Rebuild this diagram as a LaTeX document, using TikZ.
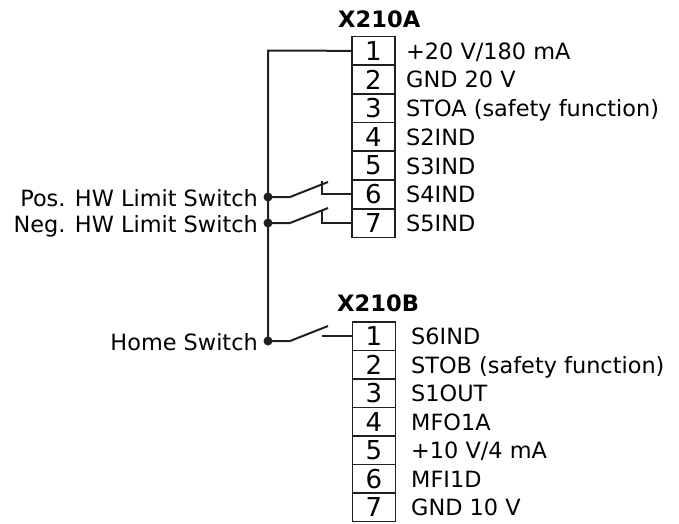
\documentclass[tikz,border=0pt]{standalone}
\usepackage{fontspec}
\setmainfont{DejaVu Sans}
\usepackage{tikz}

\definecolor{ink}{HTML}{231F20}
\tikzset{
  term/.style={draw=ink, line width=1.5pt, minimum width=43pt, minimum height=28.5pt, inner sep=0pt, font=\fontsize{26}{26}\selectfont},
  sig/.style={inner sep=0pt, font=\fontsize{22.4}{27}\selectfont},
  heading/.style={anchor=base west, inner sep=0pt, font=\bfseries\fontsize{22.6}{27}\selectfont},
  wire/.style={draw=ink, line width=2pt},
}

\begin{document}
\begin{tikzpicture}[x=1pt,y=-1pt]
\useasboundingbox (0,0) rectangle (679,523);

% Connector X210A.
\node[heading] (xa) at (338,27) {X210A};
\foreach \i/\t in {1/{+20 V/180 mA},2/{GND 20 V},3/{STOA (safety function)},4/{S2IND},5/{S3IND},6/{S4IND},7/{S5IND}}{
  \node[term] (a\i) at (373.5,{36.5+(\i-0.5)*28.7}) {\i};
  \node[sig, anchor=base west] (la\i) at (406,{36.5+(\i-0.5)*28.7+8.4}) {\t};
}

% Connector X210B.
\node[heading] (xb) at (337,311.5) {X210B};
\foreach \i/\t in {1/{S6IND},2/{STOB (safety function)},3/{S1OUT},4/{MFO1A},5/{+10 V/4 mA},6/{MFI1D},7/{GND 10 V}}{
  \node[term] (b\i) at (374,{322+(\i-0.5)*28.5}) {\i};
  \node[sig, anchor=base west] (lb\i) at (411,{322+(\i-0.5)*28.5+8.4}) {\t};
}

\coordinate (top) at (268,50.5);
\coordinate (pos) at (268,197);
\coordinate (neg) at (268,223);
\coordinate (home) at (268,341);

\draw[wire] (a1.west) -- (top) -- (home); % Supply line.

% Limit switches (normally closed).
\draw[wire] (pos) -- ++(22,0) -- ++(38,-15);
\draw[wire] (a6.west) -- ++(-29,0) -- ++(0,-13);
\draw[wire] (neg) -- ++(22,0) -- ++(38,-15);
\draw[wire] (a7.west) -- ++(-29,0) -- ++(0,-13);

% Home switch (normally open).
\draw[wire] (home) -- ++(22,0) -- ++(38,-15);
\draw[wire] (b1.west) -- ++(-30,0);

\fill[ink] (pos) circle (4.5pt) (neg) circle (4.5pt) (home) circle (4.5pt);

\node[sig, anchor=base east] (lpos) at (258,206.5) {Pos. HW Limit Switch};
\node[sig, anchor=base east] (lneg) at (258,232.5) {Neg. HW Limit Switch};
\node[sig, anchor=base east] (lhome) at (258,350) {Home Switch};
\end{tikzpicture}
\end{document}
